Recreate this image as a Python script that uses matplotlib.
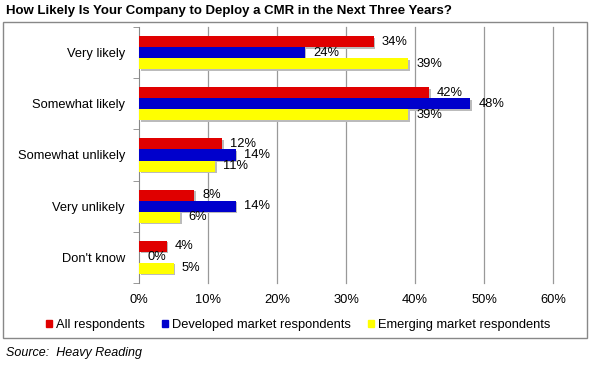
import matplotlib
matplotlib.use("Agg")
import matplotlib.pyplot as plt
from matplotlib.patches import Rectangle
import numpy as np

plt.rcParams['font.family'] = ['Liberation Sans', 'DejaVu Sans']

categories = ["Very likely", "Somewhat likely", "Somewhat unlikely", "Very unlikely", "Don't know"]
series_names = ["All respondents", "Developed market respondents", "Emerging market respondents"]
all_resp = [34, 42, 12, 8, 4]
developed = [24, 48, 14, 14, 0]
emerging = [39, 39, 11, 6, 5]
colors = ["#E00000", "#0000CC", "#FFFF00"]
xticks = [0, 10, 20, 30, 40, 50, 60]

fig = plt.figure(figsize=(5.9, 3.67), dpi=100)
W, H = 590, 367

# outer frame
fig.patches.append(Rectangle((3 / W, 1 - 338 / H), 584 / W, 316 / H, transform=fig.transFigure,
                             fill=False, edgecolor="#888888", linewidth=1))

ax = fig.add_axes([139 / W, 1 - 283 / H, (553 - 139) / W, (283 - 27) / H])
n = len(categories)
y = np.arange(n)
bh = 0.215
series = [all_resp, developed, emerging]
for i, (vals, c, name) in enumerate(zip(series, colors, series_names)):
    pos = y + (i - 1) * bh
    # subtle drop shadow
    ax.barh(pos + 0.03, vals, height=bh, left=0.25, color="#BBBBBB", zorder=2)
    ax.barh(pos, vals, height=bh, color=c, label=name, zorder=3)
    for p, v in zip(pos, vals):
        ax.text(v + 1.2, p, f"{v}%", va="center", ha="left", fontsize=9.3, zorder=4)

ax.set_xlim(0, 60)
ax.set_ylim(n - 0.5, -0.5)
ax.set_xticks(xticks)
ax.set_xticklabels([f"{t}%" for t in xticks], fontsize=9.3)
ax.set_yticks(y)
ax.set_yticklabels(categories, fontsize=9.3)
ax.set_yticks(np.arange(n + 1) - 0.5, minor=True)
ax.tick_params(axis="y", which="major", length=0, pad=10)
ax.tick_params(axis="y", which="minor", length=4, color="#888888")
ax.tick_params(axis="x", length=0, pad=8)
for t in xticks[1:]:
    ax.axvline(t, color="#999999", linewidth=0.9, zorder=0, clip_on=False)
for s in ["top", "right", "bottom"]:
    ax.spines[s].set_visible(False)
ax.spines["left"].set_color("#888888")

handles = [Rectangle((0, 0), 1, 1, color=c) for c in colors]
fig.legend(handles, series_names, loc="center", bbox_to_anchor=(298 / W, 1 - 325 / H), ncol=3,
           frameon=False, fontsize=9.3, handlelength=0.5, handleheight=0.5, handletextpad=0.3,
           columnspacing=1.3)

fig.text(6 / W, 1 - 11 / H, "How Likely Is Your Company to Deploy a CMR in the Next Three Years?",
         fontsize=9.5, fontweight="bold", va="center", ha="left")
fig.text(6 / W, 1 - 353 / H, "Source:  Heavy Reading", fontsize=9, style="italic",
         va="center", ha="left")

fig.savefig("out.png", dpi=100)
